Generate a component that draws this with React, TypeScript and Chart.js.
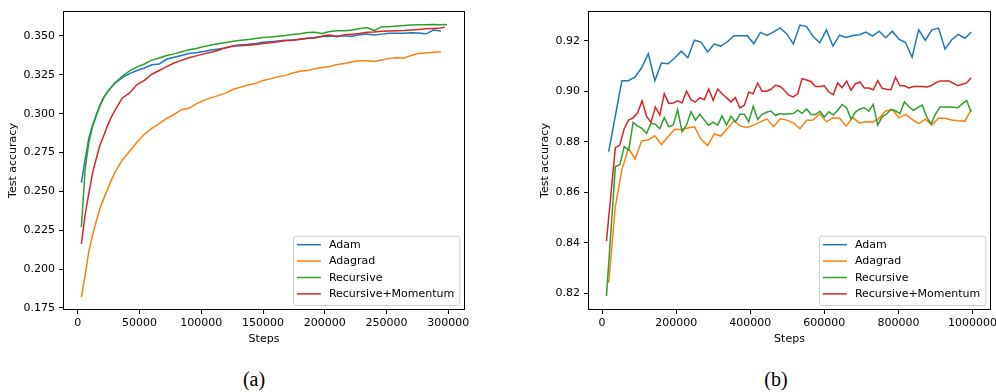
import { useEffect, useRef } from 'react';
import { Chart, registerables } from 'chart.js';

Chart.register(...registerables);

const FONT = 'DejaVu Sans';
const SERIES_NAMES = ['Adam', 'Adagrad', 'Recursive', 'Recursive+Momentum'];
const COLORS = ['#1f77b4', '#ff7f0e', '#2ca02c', '#d62728'];

// ---------- (a) left chart ----------
const leftSteps = [
  3000, 6000, 9000, 12000, 15000, 18000, 21000, 24000, 27000, 30000,
  36000, 42000, 48000, 54000, 60000, 66000, 72000, 78000, 84000, 90000,
  96000, 102000, 108000, 114000, 120000, 126000, 132000, 138000, 144000, 150000,
  156000, 162000, 168000, 174000, 180000, 186000, 192000, 198000, 204000, 210000,
  216000, 222000, 228000, 234000, 240000, 246000, 252000, 258000, 264000, 270000,
  276000, 282000, 288000, 294000, 297000, 299000,
];
const leftAdam = [
  0.2557, 0.2705, 0.2842, 0.2925, 0.2994, 0.3055, 0.3105, 0.3140, 0.3168, 0.3195,
  0.3232, 0.3258, 0.3278, 0.3294, 0.3315, 0.3320, 0.3350, 0.3363, 0.3375, 0.3387,
  0.3392, 0.3400, 0.3410, 0.3417, 0.3425, 0.3438, 0.3444, 0.3447, 0.3452, 0.3459,
  0.3463, 0.3468, 0.3472, 0.3474, 0.3477, 0.3485, 0.3490, 0.3496, 0.3499, 0.3500,
  0.3500, 0.3498, 0.3508, 0.3512, 0.3506, 0.3512, 0.3517, 0.3518, 0.3518, 0.3521,
  0.3519, 0.3514, 0.3538, 0.3532, null, null,
];
const leftAdagrad = [
  0.1820, 0.1960, 0.2112, 0.2219, 0.2307, 0.2390, 0.2452, 0.2510, 0.2568, 0.2621,
  0.2701, 0.2759, 0.2817, 0.2868, 0.2906, 0.2936, 0.2970, 0.2995, 0.3026, 0.3035,
  0.3063, 0.3086, 0.3102, 0.3118, 0.3134, 0.3157, 0.3171, 0.3185, 0.3195, 0.3214,
  0.3224, 0.3238, 0.3245, 0.3262, 0.3273, 0.3278, 0.3290, 0.3297, 0.3303, 0.3316,
  0.3323, 0.3334, 0.3340, 0.3340, 0.3336, 0.3345, 0.3356, 0.3360, 0.3357, 0.3375,
  0.3388, 0.3391, 0.3395, 0.3399, null, null,
];
const leftRecursive = [
  0.2270, 0.2640, 0.2815, 0.2915, 0.2985, 0.3050, 0.3100, 0.3138, 0.3168, 0.3198,
  0.3240, 0.3275, 0.3301, 0.3320, 0.3345, 0.3358, 0.3375, 0.3385, 0.3398, 0.3412,
  0.3420, 0.3432, 0.3442, 0.3450, 0.3458, 0.3466, 0.3472, 0.3478, 0.3484, 0.3490,
  0.3493, 0.3499, 0.3503, 0.3509, 0.3514, 0.3523, 0.3524, 0.3516, 0.3529, 0.3534,
  0.3533, 0.3538, 0.3546, 0.3555, 0.3535, 0.3559, 0.3560, 0.3565, 0.3567, 0.3571,
  0.3573, 0.3573, 0.3574, 0.3573, 0.3574, 0.3573,
];
const leftMomentum = [
  0.2163, 0.2350, 0.2487, 0.2618, 0.2710, 0.2797, 0.2857, 0.2920, 0.2975, 0.3020,
  0.3100, 0.3134, 0.3188, 0.3214, 0.3254, 0.3278, 0.3303, 0.3326, 0.3343, 0.3360,
  0.3372, 0.3385, 0.3395, 0.3408, 0.3425, 0.3436, 0.3437, 0.3441, 0.3446, 0.3452,
  0.3457, 0.3463, 0.3469, 0.3473, 0.3481, 0.3485, 0.3487, 0.3500, 0.3506, 0.3496,
  0.3508, 0.3512, 0.3516, 0.3524, 0.3526, 0.3530, 0.3532, 0.3534, 0.3535, 0.3538,
  0.3542, 0.3546, 0.3549, 0.3552, 0.3556, null,
];
const leftXTicks = [0, 50000, 100000, 150000, 200000, 250000, 300000];
const leftYTicks = [0.175, 0.2, 0.225, 0.25, 0.275, 0.3, 0.325, 0.35];

// ---------- (b) right chart ----------
const rightStepsA = [
  18000, 35800, 53600, 71400, 89200, 107000, 124800, 142600, 160400, 178200,
  196000, 213800, 231600, 249400, 267200, 285000, 302800, 320600, 338400, 356200,
  374000, 391800, 409600, 427400, 445200, 463000, 480800, 498600, 516400, 534200,
  552000, 569800, 587600, 605400, 623200, 641000, 658800, 676600, 694400, 712200,
  730000, 747800, 765600, 783400, 801200, 819000, 836800, 854600, 872400, 890200,
  908000, 925800, 943600, 961400, 979200, 997000,
];
const rightStepsB = [
  12000, 24000, 36000, 48000, 60000, 72000, 84000, 96000, 108000, 120000,
  132000, 144000, 156000, 168000, 180000, 192000, 204000, 216000, 228000, 240000,
  252000, 264000, 276000, 288000, 300000, 312000, 324000, 336000, 348000, 360000,
  372000, 384000, 396000, 408000, 420000, 432000, 444000, 456000, 468000, 480000,
  492000, 504000, 516000, 528000, 540000, 552000, 564000, 576000, 588000, 600000,
  612000, 624000, 636000, 648000, 660000, 672000, 684000, 696000, 708000, 720000,
  732000, 744000, 756000, 768000, 780000, 792000, 804000, 816000, 828000, 840000,
  852000, 864000, 876000, 888000, 900000, 912000, 924000, 936000, 948000, 960000,
  972000, 984000, 996000,
];
const rightAdam = [
  0.8761, 0.8902, 0.9042, 0.9042, 0.9057, 0.9093, 0.9149, 0.9042, 0.9112, 0.9109,
  0.9132, 0.9159, 0.9133, 0.9202, 0.9195, 0.9156, 0.9187, 0.9179, 0.9196, 0.9220,
  0.9220, 0.9221, 0.9188, 0.9233, 0.9221, 0.9235, 0.9251, 0.9227, 0.9188, 0.9262,
  0.9256, 0.9217, 0.9192, 0.9243, 0.9179, 0.9222, 0.9213, 0.9221, 0.9224, 0.9234,
  0.9218, 0.9238, 0.9212, 0.9238, 0.9206, 0.9193, 0.9135, 0.9243, 0.9202, 0.9243,
  0.9250, 0.9167, 0.9204, 0.9225, 0.9210, 0.9235,
];
const rightAdagrad = [
  0.8243, 0.8544, 0.8689, 0.8774, 0.8732, 0.8804, 0.8807, 0.8824, 0.8789, 0.8820,
  0.8850, 0.8849, 0.8855, 0.8860, 0.8810, 0.8785, 0.8831, 0.8823, 0.8853, 0.8883,
  0.8862, 0.8857, 0.8866, 0.8879, 0.8891, 0.8860, 0.8891, 0.8886, 0.8875, 0.8852,
  0.8885, 0.8886, 0.8912, 0.8879, 0.8895, 0.8893, 0.8862, 0.8897, 0.8875, 0.8879,
  0.8878, 0.8893, 0.8922, 0.8928, 0.8895, 0.8909, 0.8889, 0.8872, 0.8890, 0.8867,
  0.8893, 0.8893, 0.8886, 0.8883, 0.8882, 0.8928,
];
const rightRecursive = [
  0.8190, 0.8446, 0.8702, 0.8709, 0.8781, 0.8767, 0.8877, 0.8862, 0.8853, 0.8833,
  0.8873, 0.8870, 0.8852, 0.8896, 0.8860, 0.8866, 0.8928, 0.8840, 0.8866, 0.8919,
  0.8886, 0.8909, 0.8886, 0.8866, 0.8878, 0.8866, 0.8902, 0.8866, 0.8902, 0.8879,
  0.8909, 0.8909, 0.8879, 0.8941, 0.8888, 0.8909, 0.8917, 0.8922, 0.8904, 0.8912,
  0.8909, 0.8911, 0.8912, 0.8925, 0.8913, 0.8930, 0.8908, 0.8908, 0.8921, 0.8898,
  0.8919, 0.8906, 0.8925, 0.8948, 0.8935, 0.8890, 0.8918, 0.8930, 0.8935, 0.8921,
  0.8948, 0.8866, 0.8899, 0.8910, 0.8928, 0.8923, 0.8912, 0.8958, 0.8940, 0.8925,
  0.8935, 0.8945, 0.8900, 0.8870, 0.8910, 0.8938, 0.8938, 0.8938, 0.8937, 0.8935,
  0.8950, 0.8964, 0.8918,
];
const rightMomentum = [
  0.8407, 0.8592, 0.8777, 0.8787, 0.8853, 0.8886, 0.8895, 0.8915, 0.8962, 0.8902,
  0.8877, 0.8938, 0.8906, 0.8991, 0.8952, 0.8954, 0.8962, 0.8954, 0.9001, 0.8967,
  0.8957, 0.8975, 0.8967, 0.9009, 0.8964, 0.9009, 0.8990, 0.8975, 0.8958, 0.8975,
  0.8934, 0.8945, 0.8997, 0.8990, 0.9033, 0.9000, 0.9000, 0.9008, 0.9024, 0.9020,
  0.9004, 0.8985, 0.8978, 0.8990, 0.9050, 0.9045, 0.9039, 0.9019, 0.9019, 0.9022,
  0.8997, 0.8987, 0.9033, 0.9014, 0.9041, 0.9004, 0.9030, 0.9037, 0.9013, 0.9013,
  0.9006, 0.9042, 0.9012, 0.9008, 0.9006, 0.9056, 0.9022, 0.9022, 0.9013, 0.9019,
  0.9019, 0.9019, 0.9017, 0.9022, 0.9033, 0.9041, 0.9041, 0.9041, 0.9032, 0.9022,
  0.9028, 0.9033, 0.9054,
];
const rightXTicks = [0, 200000, 400000, 600000, 800000, 1000000];
const rightYTicks = [0.82, 0.84, 0.86, 0.88, 0.9, 0.92];

type Pt = { x: number; y: number };
function pts(steps: number[], vals: (number | null)[]): Pt[] {
  const out: Pt[] = [];
  steps.forEach((s, i) => {
    const v = vals[i];
    if (v !== null && v !== undefined) out.push({ x: s, y: v });
  });
  return out;
}

const framePlugin = {
  id: 'mplFrame',
  afterDatasetsDraw(chart: any) {
    const { ctx, chartArea: a } = chart;
    ctx.save();
    ctx.strokeStyle = '#000';
    ctx.lineWidth = 1;
    const l = Math.round(a.left) + 0.5;
    const t = Math.round(a.top) + 0.5;
    const r = Math.round(a.right) - 0.5;
    const b = Math.round(a.bottom) - 0.5;
    ctx.strokeRect(l, t, r - l, b - t);
    ctx.restore();
  },
};

const legendPlugin = {
  id: 'mplLegend',
  afterDraw(chart: any) {
    const { ctx, chartArea: a } = chart;
    const ds = chart.data.datasets;
    ctx.save();
    ctx.font = `11px "${FONT}"`;
    let tw = 0;
    ds.forEach((d: any) => {
      tw = Math.max(tw, ctx.measureText(d.label).width);
    });
    const w = 36 + tw + 5;
    const h = 69.3;
    const x = a.right - 5.7 - w;
    const y = a.bottom - 5 - h;
    ctx.beginPath();
    if ((ctx as any).roundRect) (ctx as any).roundRect(x + 0.5, y + 0.5, w, h, 2.5);
    else ctx.rect(x + 0.5, y + 0.5, w, h);
    ctx.fillStyle = 'rgba(255,255,255,0.8)';
    ctx.fill();
    ctx.strokeStyle = '#cccccc';
    ctx.lineWidth = 1;
    ctx.stroke();
    ds.forEach((d: any, i: number) => {
      const cy = y + 9 + i * 16.4;
      ctx.beginPath();
      ctx.strokeStyle = d.borderColor;
      ctx.lineWidth = 1.5;
      ctx.moveTo(x + 4, cy);
      ctx.lineTo(x + 28, cy);
      ctx.stroke();
      ctx.fillStyle = '#000';
      ctx.textBaseline = 'middle';
      ctx.textAlign = 'left';
      ctx.fillText(d.label, x + 36, cy + 0.5);
    });
    ctx.restore();
  },
};

type Cfg = {
  series: Pt[][];
  xMin: number;
  xMax: number;
  yMin: number;
  yMax: number;
  xTicks: number[];
  yTicks: number[];
  yDecimals: number;
  yWidth: number;
  padRight: number;
  yTitlePad: number;
};

function buildChart(canvas: HTMLCanvasElement, cfg: Cfg) {
  const font = { family: FONT, size: 11 };
  return new Chart(canvas, {
    type: 'line',
    data: {
      datasets: cfg.series.map((s, i) => ({
        label: SERIES_NAMES[i],
        data: s,
        borderColor: COLORS[i],
        backgroundColor: COLORS[i],
        borderWidth: 1.5,
        pointRadius: 0,
        tension: 0,
        fill: false,
        order: 3 - i,
      })),
    },
    options: {
      responsive: false,
      animation: false,
      devicePixelRatio: 1,
      layout: { padding: { left: 0, top: 11, right: cfg.padRight, bottom: 0 } },
      plugins: { legend: { display: false }, tooltip: { enabled: false } },
      scales: {
        x: {
          type: 'linear',
          min: cfg.xMin,
          max: cfg.xMax,
          afterBuildTicks: (s: any) => {
            s.ticks = cfg.xTicks.map((v) => ({ value: v }));
          },
          afterFit: (s: any) => {
            s.height = 40;
            s.paddingLeft = 0;
            s.paddingRight = 0;
          },
          grid: { drawOnChartArea: false, drawTicks: true, tickLength: 4, color: '#000', tickColor: '#000', lineWidth: 1 },
          border: { display: false },
          ticks: {
            color: '#000',
            font,
            padding: 3,
            maxRotation: 0,
            autoSkip: false,
            callback: (v: any) => String(v),
          },
          title: { display: true, text: 'Steps', color: '#000', font, padding: { top: 4, bottom: 4 } },
        },
        y: {
          type: 'linear',
          min: cfg.yMin,
          max: cfg.yMax,
          afterBuildTicks: (s: any) => {
            s.ticks = cfg.yTicks.map((v) => ({ value: v }));
          },
          afterFit: (s: any) => {
            s.width = cfg.yWidth;
            s.paddingTop = 0;
            s.paddingBottom = 0;
          },
          grid: { drawOnChartArea: false, drawTicks: true, tickLength: 4, color: '#000', tickColor: '#000', lineWidth: 1 },
          border: { display: false },
          ticks: {
            color: '#000',
            font,
            padding: 4,
            autoSkip: false,
            callback: (v: any) => Number(v).toFixed(cfg.yDecimals),
          },
          title: { display: true, text: 'Test accuracy', color: '#000', font, padding: { top: cfg.yTitlePad, bottom: 0 } },
        },
      },
    } as any,
    plugins: [framePlugin, legendPlugin],
  });
}

function Panel(props: { cfg: Cfg; left: number; width: number }) {
  const ref = useRef<HTMLCanvasElement | null>(null);
  useEffect(() => {
    if (!ref.current) return;
    const chart = buildChart(ref.current, props.cfg);
    return () => chart.destroy();
  }, []);
  return (
    <canvas
      ref={ref}
      width={props.width}
      height={350}
      style={{ position: 'absolute', left: props.left, top: 0, width: props.width, height: 350 }}
    />
  );
}

const leftCfg: Cfg = {
  series: [
    pts(leftSteps, leftAdam),
    pts(leftSteps, leftAdagrad),
    pts(leftSteps, leftRecursive),
    pts(leftSteps, leftMomentum),
  ],
  xMin: -11900,
  xMax: 313500,
  yMin: 0.17371,
  yMax: 0.36608,
  xTicks: leftXTicks,
  yTicks: leftYTicks,
  yDecimals: 3,
  yWidth: 63,
  padRight: 25,
  yTitlePad: 6.4,
};

const rightCfg: Cfg = {
  series: [
    pts(rightStepsA, rightAdam),
    pts(rightStepsA, rightAdagrad),
    pts(rightStepsB, rightRecursive),
    pts(rightStepsB, rightMomentum),
  ],
  xMin: -37840,
  xMax: 1049730,
  yMin: 0.81344,
  yMax: 0.93178,
  xTicks: rightXTicks,
  yTicks: rightYTicks,
  yDecimals: 2,
  yWidth: 68,
  padRight: 5,
  yTitlePad: 18.4,
};

export default function App() {
  const caption: any = {
    position: 'absolute',
    top: 368,
    width: 100,
    textAlign: 'center',
    fontFamily: '"Liberation Serif", serif',
    fontSize: 20,
    lineHeight: '22px',
    color: '#000',
  };
  return (
    <div style={{ position: 'absolute', left: 0, top: 0, width: 996, height: 392, background: '#fff', overflow: 'hidden' }}>
      <Panel cfg={leftCfg} left={0} width={490} />
      <Panel cfg={rightCfg} left={520} width={476} />
      <div style={{ ...caption, left: 204 }}>(a)</div>
      <div style={{ ...caption, left: 726 }}>(b)</div>
    </div>
  );
}
